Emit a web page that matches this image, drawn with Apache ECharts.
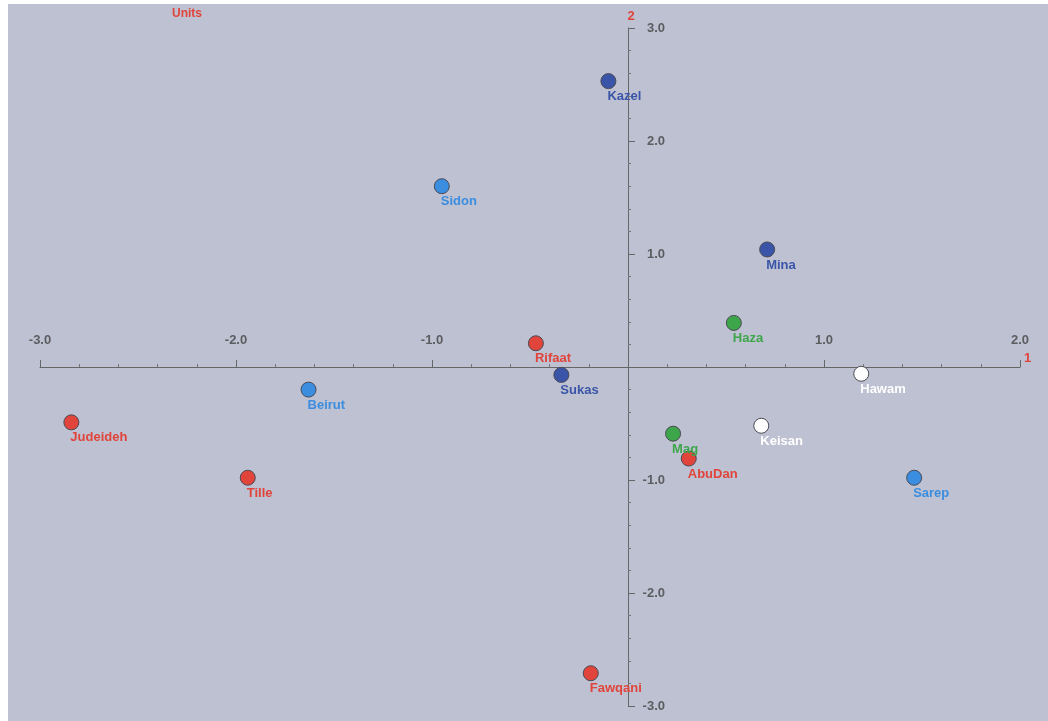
<!DOCTYPE html>
<html>
<head>
<meta charset="utf-8">
<script src="https://cdn.jsdelivr.net/npm/echarts@6/dist/echarts.min.js"></script>
<style>html,body{margin:0;padding:0;background:#fff;}#c{width:1048px;height:721px;}</style>
</head>
<body>
<div id="c"></div>
<script>
// Site names and their scores on dimensions 1 (x) and 2 (y)
const redSites = ['Rifaat', 'Judeideh', 'AbuDan', 'Tille', 'Fawqani'];
const redX = [-0.47, -2.84, 0.31, -1.94, -0.19];
const redY = [0.21, -0.49, -0.81, -0.98, -2.71];

const darkBlueSites = ['Kazel', 'Mina', 'Sukas'];
const darkBlueX = [-0.10, 0.71, -0.34];
const darkBlueY = [2.53, 1.04, -0.07];

const lightBlueSites = ['Sidon', 'Beirut', 'Sarep'];
const lightBlueX = [-0.95, -1.63, 1.46];
const lightBlueY = [1.60, -0.20, -0.98];

const greenSites = ['Haza', 'Mag'];
const greenX = [0.54, 0.23];
const greenY = [0.39, -0.59];

const whiteSites = ['Hawam', 'Keisan'];
const whiteX = [1.19, 0.68];
const whiteY = [-0.06, -0.52];

const xTicks = [-3, -2, -1, 1, 2];
const yTicks = [-3, -2, -1, 1, 2, 3];

const FONT = 'Liberation Sans, Arial, sans-serif';

function build(names, xs, ys) {
  return names.map((n, i) => ({ name: n, value: [xs[i], ys[i]] }));
}
function series(names, xs, ys, fill, labelColor) {
  return {
    type: 'scatter',
    data: build(names, xs, ys),
    symbolSize: 15,
    itemStyle: { color: fill, borderColor: '#4a4a55', borderWidth: 1, opacity: 1 },
    label: {
      show: true,
      formatter: p => p.name,
      position: 'bottom',
      align: 'left',
      distance: 1,
      offset: [-1, 0],
      color: labelColor,
      fontFamily: FONT,
      fontWeight: 'bold',
      fontSize: 13
    },
    emphasis: { disabled: true },
    z: 5
  };
}

const tickText = { color: '#444', fontFamily: FONT, fontWeight: 'bold', fontSize: 13 };

const chart = echarts.init(document.getElementById('c'), null, { renderer: 'canvas' });
chart.setOption({
  animation: false,
  backgroundColor: '#ffffff',
  graphic: [
    { type: 'rect', shape: { x: 8, y: 4, width: 1040, height: 717 }, style: { fill: '#bec1d1' }, z: -10 },
    { type: 'text', left: 172, top: 8, style: { text: 'Units', fill: '#e0443a', font: 'bold 12px Liberation Sans, Arial, sans-serif' }, z: 10 }
  ],
  grid: { left: 40, right: 28, top: 28, bottom: 15, containLabel: false },
  xAxis: {
    type: 'value', min: -3, max: 2, interval: 1, position: 'top',
    axisLine: { onZero: true, lineStyle: { color: '#666', width: 1 } },
    axisTick: { show: true, length: 7, lineStyle: { color: '#666' } },
    minorTick: { show: true, splitNumber: 5, length: 3, lineStyle: { color: '#777' } },
    splitLine: { show: false },
    axisLabel: { show: false },
    name: '1', nameLocation: 'end', nameGap: 4,
    nameTextStyle: { color: '#e0443a', fontWeight: 'bold', fontSize: 13, fontFamily: FONT, verticalAlign: 'bottom', padding: [0, 0, 2, 0] }
  },
  yAxis: {
    type: 'value', min: -3, max: 3, interval: 1, position: 'right',
    axisLine: { onZero: true, lineStyle: { color: '#666', width: 1 } },
    axisTick: { show: true, length: 7, lineStyle: { color: '#666' } },
    minorTick: { show: true, splitNumber: 5, length: 3, lineStyle: { color: '#777' } },
    splitLine: { show: false },
    axisLabel: { show: false },
    name: '2', nameLocation: 'end', nameGap: 5,
    nameTextStyle: { color: '#e0443a', fontWeight: 'bold', fontSize: 13, fontFamily: FONT, padding: [0, 0, 0, 6] }
  },
  series: [
    {
      type: 'scatter', silent: true, symbolSize: 0,
      data: xTicks.map(v => [v, 0]),
      label: Object.assign({ show: true, position: 'top', distance: 20, formatter: p => p.value[0].toFixed(1) }, tickText),
      z: 3
    },
    {
      type: 'scatter', silent: true, symbolSize: 0,
      data: yTicks.map(v => [0, v]),
      label: Object.assign({ show: true, position: 'right', distance: 37, align: 'right', formatter: p => p.value[1].toFixed(1) }, tickText),
      z: 3
    },
    series(redSites, redX, redY, '#e0443a', '#e0443a'),
    series(darkBlueSites, darkBlueX, darkBlueY, '#3a55a8', '#3a55a8'),
    series(lightBlueSites, lightBlueX, lightBlueY, '#3b8de0', '#3b8de0'),
    series(greenSites, greenX, greenY, '#3ea64a', '#3ea64a'),
    series(whiteSites, whiteX, whiteY, '#ffffff', '#ffffff')
  ]
});
</script>
</body>
</html>
